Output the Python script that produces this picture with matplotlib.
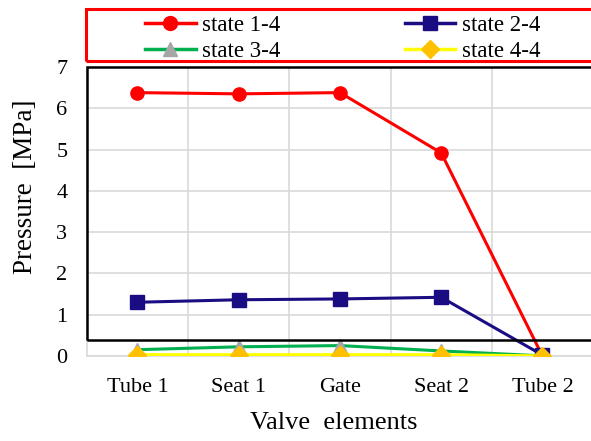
import matplotlib.pyplot as plt
from matplotlib.patches import Rectangle
from matplotlib.lines import Line2D

elements = ['Tube 1', 'Seat 1', 'Gate', 'Seat 2', 'Tube 2']
state_14 = [6.38, 6.35, 6.38, 4.92, 0.0]
state_24 = [1.30, 1.36, 1.38, 1.42, 0.02]
state_34 = [0.15, 0.22, 0.25, 0.12, 0.0]
state_44 = [0.03, 0.03, 0.03, 0.03, 0.0]
yticks = [0, 1, 2, 3, 4, 5, 6, 7]

plt.rcParams['font.family'] = ['Liberation Serif', 'DejaVu Serif']

fig = plt.figure(figsize=(5.91, 4.41), dpi=100)
ax = fig.add_axes([0.147, 0.193, 0.853, 0.655])

x = list(range(len(elements)))
ax.plot(x, state_14, color='#ff0000', lw=2.2, marker='o', ms=9.5,
        label='state 1-4', zorder=3)
ax.plot(x, state_24, color='#1a0d84', lw=2.2, marker='s', ms=9.5,
        label='state 2-4', zorder=3)
ax.plot(x, state_34, color='#00b050', lw=2.2, marker='^', ms=10,
        mfc='#a6a6a6', mec='#a6a6a6', label='state 3-4', zorder=3)
ax.plot(x, state_44, color='#ffff00', lw=2.2, marker='D', ms=9.5,
        mfc='#ffc000', mec='#ffc000', label='state 4-4', zorder=3)

ax.set_xlim(-0.5, 4.48)
ax.set_ylim(0, 7)
ax.set_xticks(x)
ax.set_xticklabels(elements, fontsize=16)
ax.set_yticks(yticks)
ax.set_yticklabels([str(v) for v in yticks], fontsize=16)
ax.set_xticks([0.5, 1.5, 2.5, 3.5], minor=True)
ax.tick_params(axis='both', which='both', length=0)
ax.tick_params(axis='x', pad=16)
ax.tick_params(axis='y', pad=14)
ax.grid(axis='y', which='major', color='#d9d9d9', lw=1.2)
ax.grid(axis='x', which='minor', color='#d9d9d9', lw=1.2)
for s in ['top', 'right']:
    ax.spines[s].set_visible(False)
for s in ['left', 'bottom']:
    ax.spines[s].set_color('#d9d9d9')
    ax.spines[s].set_linewidth(1.2)

ax.set_xlabel('Valve  elements', fontsize=19)
ax.set_ylabel('Pressure  [MPa]', fontsize=19.5)
ax.xaxis.set_label_coords(0.49, -0.195)
ax.yaxis.set_label_coords(-0.096, 0.585)

# black frame drawn over the plot area
ax.add_patch(Rectangle((0, 0.39), 1.1, 6.6, transform=ax.get_yaxis_transform(),
                       fill=False, ec='black', lw=1.8, zorder=4, clip_on=False))

# red frame round the legend
fig.patches.append(Rectangle((0.146, 0.862), 0.9, 0.118, transform=fig.transFigure,
                             fill=False, ec='#ff0000', lw=2.2))

handles = [
    Line2D([], [], color='#ff0000', lw=2.5, marker='o', ms=10),
    Line2D([], [], color='#00b050', lw=2.5, marker='^', ms=10, mfc='#a6a6a6', mec='#a6a6a6'),
    Line2D([], [], color='#1a0d84', lw=2.5, marker='s', ms=10),
    Line2D([], [], color='#ffff00', lw=2.5, marker='D', ms=9, mfc='#ffc000', mec='#ffc000'),
]
labels = ['state 1-4', 'state 3-4', 'state 2-4', 'state 4-4']
fig.legend(handles, labels, ncol=2, loc='center', bbox_to_anchor=(0.58, 0.913),
           frameon=False, fontsize=16.5, handlelength=2.2, handletextpad=0.3,
           columnspacing=5.4, labelspacing=0.2, borderpad=0)

fig.savefig('out.png', dpi=100)
